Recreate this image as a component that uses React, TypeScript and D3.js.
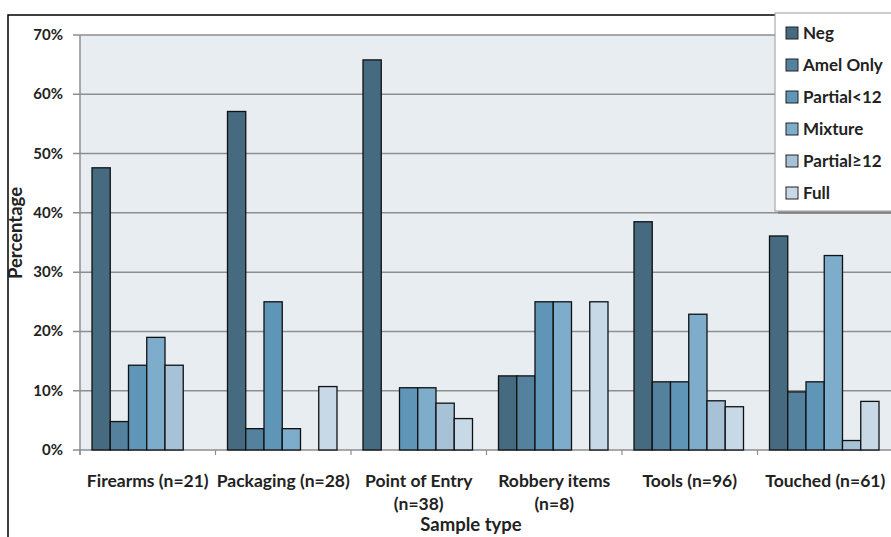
import { useEffect, useRef } from "react";
import * as d3 from "d3";

const categories = [
  ["Firearms (n=21)"],
  ["Packaging (n=28)"],
  ["Point of Entry", "(n=38)"],
  ["Robbery items", "(n=8)"],
  ["Tools (n=96)"],
  ["Touched (n=61)"],
];
const seriesNames = ["Neg", "Amel Only", "Partial<12", "Mixture", "Partial≥12", "Full"];
const seriesColors = ["#466a80", "#54819d", "#5f95b7", "#7eaccb", "#a7c1d6", "#c7d8e6"];

const neg = [47.6, 57.1, 65.8, 12.5, 38.5, 36.1];
const amelOnly = [4.8, 3.6, 0, 12.5, 11.5, 9.8];
const partialLt12 = [14.3, 25.0, 10.5, 25.0, 11.5, 11.5];
const mixture = [19.0, 3.6, 10.5, 25.0, 22.9, 32.8];
const partialGe12 = [14.3, 0, 7.9, 0, 8.3, 1.6];
const full = [0, 10.7, 5.3, 25.0, 7.3, 8.2];
const yTicks = [0, 10, 20, 30, 40, 50, 60, 70];

const series = [neg, amelOnly, partialLt12, mixture, partialGe12, full];

const FONT = "Lato, 'Open Sans', sans-serif";

export default function App() {
  const ref = useRef<SVGSVGElement>(null);

  useEffect(() => {
    if (!ref.current) return;
    const svg = d3.select(ref.current);
    svg.selectAll("*").remove();

    const left = 80, right = 893, top = 35, bottom = 450;

    // outer frame
    svg.append("rect").attr("x", 8).attr("y", 15).attr("width", 900).attr("height", 540)
      .attr("fill", "#fff").attr("stroke", "#000").attr("stroke-width", 1.5);

    const x0 = d3.scaleBand<number>().domain(d3.range(categories.length)).range([left, right]);
    const x1 = d3.scaleBand<number>().domain(d3.range(seriesNames.length))
      .range([12, x0.bandwidth() - 14]);
    const y = d3.scaleLinear().domain([0, 70]).range([bottom, top]);

    svg.append("rect").attr("x", left).attr("y", top).attr("width", right - left).attr("height", bottom - top)
      .attr("fill", "#e8edf2");

    svg.append("g").selectAll("line").data(yTicks).join("line")
      .attr("x1", left - 7).attr("x2", right).attr("y1", d => y(d)).attr("y2", d => y(d))
      .attr("stroke", "#8e8e8e").attr("stroke-width", 1.5);

    svg.append("line").attr("x1", left).attr("x2", left).attr("y1", top).attr("y2", bottom + 5)
      .attr("stroke", "#8e8e8e").attr("stroke-width", 1.5);

    svg.append("g").selectAll("line").data(d3.range(categories.length + 1)).join("line")
      .attr("x1", d => left + d * x0.bandwidth()).attr("x2", d => left + d * x0.bandwidth())
      .attr("y1", bottom).attr("y2", bottom + 5).attr("stroke", "#8e8e8e").attr("stroke-width", 1.2);

    svg.append("g").selectAll("text").data(yTicks).join("text")
      .attr("x", 63).attr("y", d => y(d) + 5).attr("text-anchor", "end")
      .attr("font-family", FONT).attr("font-weight", 700).attr("font-size", 15).attr("fill", "#222")
      .text(d => `${d}%`);

    const groups = svg.append("g").selectAll("g").data(categories).join("g")
      .attr("transform", (_, i) => `translate(${x0(i)},0)`);
    groups.selectAll("rect")
      .data((_, i) => series.map((s, k) => ({ k, v: s[i] })).filter(d => d.v > 0))
      .join("rect")
      .attr("x", d => x1(d.k)!).attr("width", x1.bandwidth())
      .attr("y", d => y(d.v)).attr("height", d => bottom - y(d.v))
      .attr("fill", d => seriesColors[d.k]).attr("stroke", "#111").attr("stroke-width", 1.3);

    const labels = svg.append("g").selectAll("text").data(categories).join("text")
      .attr("x", (_, i) => x0(i)! + x0.bandwidth() / 2).attr("y", 487).attr("text-anchor", "middle")
      .attr("font-family", FONT).attr("font-weight", 700).attr("font-size", 17.5).attr("fill", "#222");
    labels.selectAll("tspan").data(d => d).join("tspan")
      .attr("x", function () { return (this.parentNode as SVGTextElement).getAttribute("x"); })
      .attr("dy", (_, j) => (j === 0 ? 0 : 23)).text(d => d);

    svg.append("text").attr("x", 471).attr("y", 531).attr("text-anchor", "middle")
      .attr("font-family", FONT).attr("font-weight", 700).attr("font-size", 18.5).attr("fill", "#222")
      .text("Sample type");

    svg.append("text").attr("transform", "translate(22,233) rotate(-90)").attr("text-anchor", "middle")
      .attr("font-family", FONT).attr("font-weight", 700).attr("font-size", 18.5).attr("fill", "#222")
      .text("Percentage");

    // legend
    const lg = svg.append("g");
    lg.append("rect").attr("x", 778).attr("y", 16).attr("width", 120).attr("height", 198).attr("fill", "#777").attr("opacity", 0.6);
    lg.append("rect").attr("x", 775).attr("y", 13).attr("width", 120).attr("height", 198)
      .attr("fill", "#fff").attr("stroke", "#999").attr("stroke-width", 1);
    const items = lg.selectAll("g").data(seriesNames).join("g")
      .attr("transform", (_, i) => `translate(786,${34 + i * 32})`);
    items.append("rect").attr("x", 0).attr("y", -7).attr("width", 12).attr("height", 12)
      .attr("fill", (_, i) => seriesColors[i]).attr("stroke", "#222").attr("stroke-width", 1);
    items.append("text").attr("x", 17).attr("y", 5).attr("font-family", FONT).attr("font-weight", 700)
      .attr("font-size", 17).attr("fill", "#222").text(d => d);
  }, []);

  return (
    <svg ref={ref} width={891} height={537} style={{ position: "absolute", left: 0, top: 0, background: "#fff" }} />
  );
}
